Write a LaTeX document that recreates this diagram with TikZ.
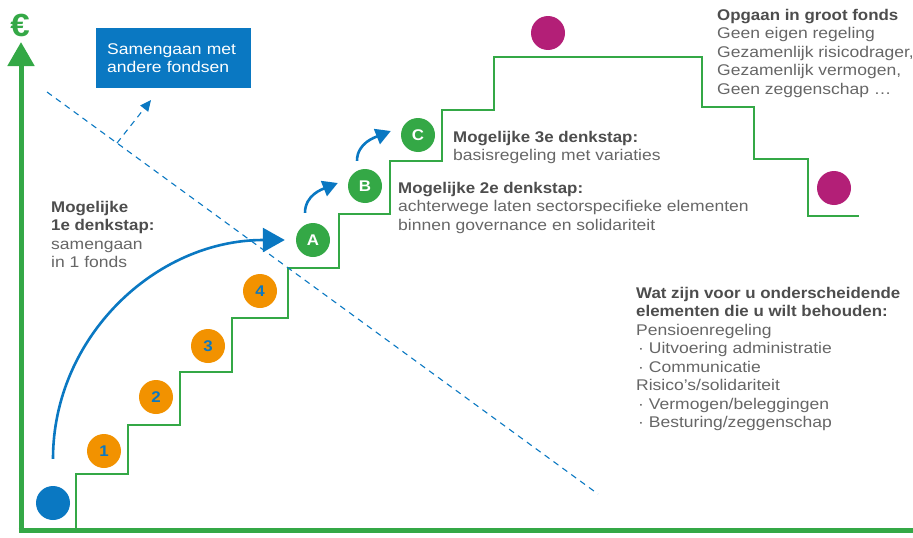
\documentclass[tikz,border=0pt]{standalone}
\usepackage{fontspec}
\setmainfont{Liberation Sans}[FakeStretch=1.13, BoldFeatures={FakeStretch=1.09}]
\usetikzlibrary{arrows.meta,calc}
\definecolor{fundblue}{HTML}{0A78C2}
\definecolor{stairgreen}{HTML}{34A846}
\definecolor{steporange}{HTML}{F29200}
\definecolor{endmagenta}{HTML}{B31F77}
\definecolor{headgrey}{HTML}{4D4D4D}
\definecolor{bodygrey}{HTML}{666666}
\newcommand{\headline}[1]{\textcolor{headgrey}{\bfseries #1}}
\begin{document}
\begin{tikzpicture}[x=1pt,y=-1pt,
  font=\fontsize{15.5}{18.5}\selectfont,
  dot/.style={circle, minimum size=34pt, inner sep=0pt, font=\fontsize{15.5}{15.5}\selectfont\bfseries},
  numdot/.style={dot, fill=steporange, text=fundblue},
  letterdot/.style={dot, fill=stairgreen, text=white},
  enddot/.style={dot, fill=endmagenta},
  startdot/.style={dot, fill=fundblue},
  axis/.style={draw=stairgreen, line width=5pt},
  stairs/.style={draw=stairgreen, line width=1.6pt},
  bigarc/.style={draw=fundblue, line width=2.6pt, -{Triangle[length=22pt,width=24pt]}},
  hop/.style={draw=fundblue, line width=2.6pt, -{Triangle[length=15pt,width=16pt]}},
  divider/.style={draw=fundblue, line width=1.1pt, dash pattern=on 6pt off 5pt},
  note/.style={anchor=north west, align=left, inner sep=0pt, text=bodygrey}
]
\useasboundingbox (0,0) rectangle (913,538);

% axes
\coordinate (ytop) at (21,42);
\coordinate (ybot) at (21,532.5);
\coordinate (xleft) at (18.5,530);
\coordinate (xright) at (913,530);
\draw[axis, -{Triangle[length=24pt,width=26pt]}] (ybot) -- (ytop);
\draw[axis] (xleft) -- (xright);
\node[font=\fontsize{32}{32}\selectfont\bfseries, text=stairgreen, inner sep=0pt] (euro) at (20,25) {€};

% staircase
\draw[stairs] (76,530) -- (76,474) -- (128,474) -- (128,425) -- (180,425)
  -- (180,372) -- (232,372) -- (232,318) -- (288,318) -- (288,268)
  -- (339,268) -- (339,214) -- (390,214) -- (390,161) -- (442,161)
  -- (442,110) -- (494,110) -- (494,57) -- (702,57) -- (702,107)
  -- (754,107) -- (754,159) -- (808,159) -- (808,216) -- (859,216);

% dashed divider and its branch
\coordinate (d1) at (47,92);
\coordinate (d2) at (598,494);
\draw[divider] (d1) -- (d2);
\coordinate (br) at ($(d1)!0.127!(d2)$);
\coordinate (brend) at (151,100);
\draw[divider, -{Triangle[length=11pt,width=10pt]}] (br) -- (brend);

% box
\node[fill=fundblue, text=white, anchor=north west, minimum width=155pt,
  minimum height=60pt, text width=133pt, inner xsep=11pt, inner ysep=0pt,
  align=left] (merge) at (96,28) {Samengaan met\\andere fondsen};

% dots
\node[startdot] (s0) at (53,503) {};
\node[numdot] (n1) at (104,451) {1};
\node[numdot] (n2) at (156,397) {2};
\node[numdot] (n3) at (208,346) {3};
\node[numdot] (n4) at (260,291) {4};
\node[letterdot] (A) at (313,240) {A};
\node[letterdot] (B) at (365,186) {B};
\node[letterdot] (C) at (418,135) {C};
\node[enddot] (top) at (548,33) {};
\node[enddot] (end) at (834,188) {};

% arrows
\draw[bigarc] ($(s0.north)+(0,-27)$) .. controls +(0,-121) and +(-130,0) .. ($(A.west)+(-11,0)$);
\draw[hop] ($(A.north)+(-8,-10)$) .. controls +(0,-18) and +(-15,6) .. ($(B.west)+(-10,-3)$);
\draw[hop] ($(B.north)+(-8,-8)$) .. controls +(0,-18) and +(-15,6) .. ($(C.west)+(-10,-4)$);

% texts
\node[note] (t1) at (51,201) {\headline{Mogelijke}\\\headline{1e denkstap:}\\samengaan\\in 1 fonds};
\node[note] (t2) at (398,182) {\headline{Mogelijke 2e denkstap:}\\achterwege laten sectorspecifieke elementen\\binnen governance en solidariteit};
\node[note] (t3) at (453,131) {\headline{Mogelijke 3e denkstap:}\\basisregeling met variaties};
\node[note] (t4) at (717,9) {\headline{Opgaan in groot fonds}\\Geen eigen regeling\\Gezamenlijk risicodrager,\\Gezamenlijk vermogen,\\Geen zeggenschap \dots};
\node[note] (t5) at (636,287) {\headline{Wat zijn voor u onderscheidende}\\\headline{elementen die u wilt behouden:}\\Pensioenregeling\\\hspace{2pt}· Uitvoering administratie\\\hspace{2pt}· Communicatie\\Risico’s/solidariteit\\\hspace{2pt}· Vermogen/beleggingen\\\hspace{2pt}· Besturing/zeggenschap};
\end{tikzpicture}
\end{document}
